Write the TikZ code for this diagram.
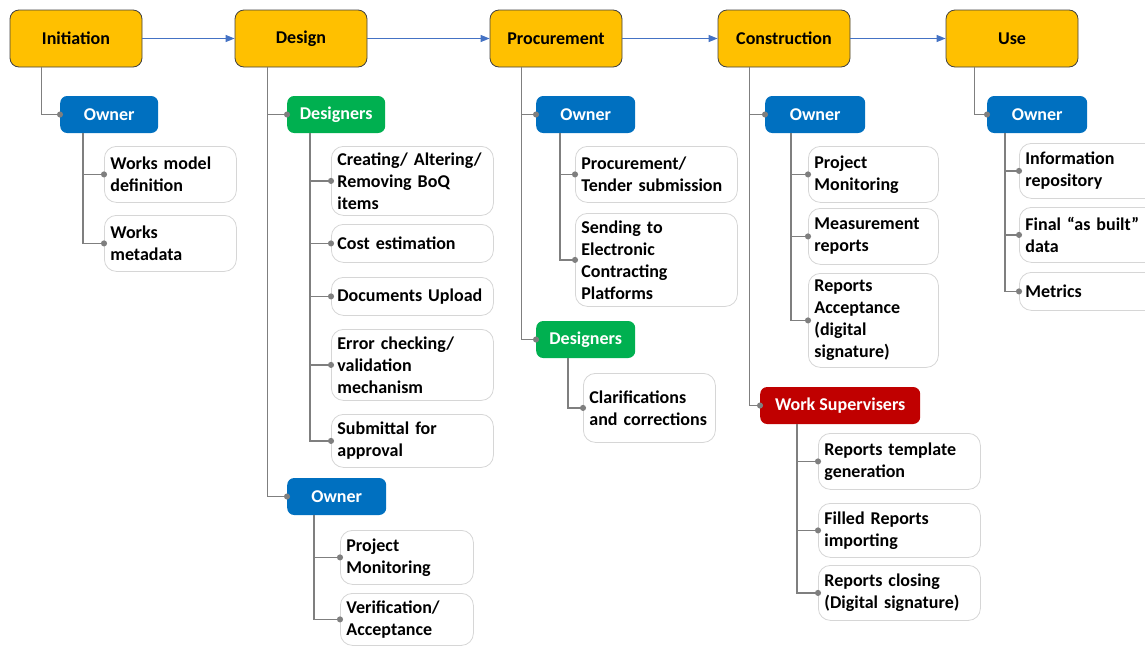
\documentclass[tikz,border=0pt]{standalone}
\usepackage{fontspec}
\setmainfont{Carlito}
\usetikzlibrary{arrows.meta}

\definecolor{stagefill}{HTML}{FFC000}
\definecolor{ownerblue}{HTML}{0070C0}
\definecolor{designgreen}{HTML}{00B050}
\definecolor{superred}{HTML}{C00000}
\definecolor{flowblue}{HTML}{4472C4}
\definecolor{branchgray}{HTML}{7F7F7F}
\definecolor{taskline}{HTML}{D6D6D6}

\begin{document}
\begin{tikzpicture}[x=1pt,y=-1pt,font=\fontsize{18}{22}\selectfont\bfseries,
    stage/.style={draw=black!75,line width=0.8pt,fill=stagefill,rounded corners=9pt,minimum width=132pt,minimum height=57pt},
    actor/.style={fill=#1,text=white,rounded corners=7pt,minimum height=37pt,anchor=west},
    task/.style={draw=taskline,line width=0.8pt,fill=white,rounded corners=12pt,anchor=north west,align=left,inner xsep=6pt,inner ysep=2pt,text width=#1},
    task/.default=120pt,
    branch/.style={draw=branchgray,line width=1.4pt,-{Circle[length=6pt]},shorten >=-3pt},
    flow/.style={draw=flowblue,line width=1pt,-{Triangle[length=9pt,width=7pt]}}]
    \useasboundingbox (0,0) rectangle (1145,646);

    % phases
    \node[stage] (ini) at (76,38.5) {Initiation};
    \node[stage] (des) at (301,38.5) {Design};
    \node[stage] (pro) at (556,38.5) {Procurement};
    \node[stage] (con) at (784,38.5) {Construction};
    \node[stage] (use) at (1012,38.5) {Use};
    \draw[flow] (ini) -- (des);
    \draw[flow] (des) -- (pro);
    \draw[flow] (pro) -- (con);
    \draw[flow] (con) -- (use);

    % actors
    \node[actor=ownerblue,minimum width=98pt] (iniown) at (60,114.5) {Owner};
    \node[actor=designgreen,minimum width=98pt] (desdes) at (287,114.5) {Designers};
    \node[actor=ownerblue,minimum width=99pt] (desown) at (287,496.5) {Owner};
    \node[actor=ownerblue,minimum width=99pt] (proown) at (536,114.5) {Owner};
    \node[actor=designgreen,minimum width=99pt] (prodes) at (536,339.5) {Designers};
    \node[actor=ownerblue,minimum width=100pt] (conown) at (765,114.5) {Owner};
    \node[actor=superred,minimum width=160pt] (consup) at (760,405.5) {Work Supervisers};
    \node[actor=ownerblue,minimum width=100pt] (useown) at (987,114.5) {Owner};

    % tasks
    \node[task,minimum width=132pt,minimum height=56pt] (ini1) at (104,146) {Works model\\definition};
    \node[task,minimum width=132pt,minimum height=56pt] (ini2) at (104,215) {Works\\metadata};
    \node[task=150pt,minimum width=162pt,minimum height=69pt] (des1) at (331,146) {Creating/ Altering/\\Removing BoQ\\items};
    \node[task=150pt,minimum width=162pt,minimum height=38pt] (des2) at (331,224) {Cost estimation};
    \node[task=150pt,minimum width=162pt,minimum height=38pt] (des3) at (331,277) {Documents Upload};
    \node[task=150pt,minimum width=162pt,minimum height=71pt] (des4) at (331,329) {Error checking/\\validation\\mechanism};
    \node[task=150pt,minimum width=162pt,minimum height=53pt] (des5) at (331,414) {Submittal for\\approval};
    \node[task=121pt,minimum width=133pt,minimum height=54pt] (des6) at (340,530) {Project\\Monitoring};
    \node[task=121pt,minimum width=133pt,minimum height=52pt] (des7) at (340,593) {Verification/\\Acceptance};
    \node[task=150pt,minimum width=162pt,minimum height=56pt] (pro1) at (575,146) {Procurement/\\Tender submission};
    \node[task=150pt,minimum width=162pt,minimum height=93pt] (pro2) at (575,213) {Sending to\\Electronic\\Contracting\\Platforms};
    \node[task,minimum width=132pt,minimum height=69pt] (pro3) at (583,373) {Clarifications\\and corrections};
    \node[task=118pt,minimum width=130pt,minimum height=56pt] (con1) at (808,146) {Project\\Monitoring};
    \node[task=118pt,minimum width=130pt,minimum height=56pt] (con2) at (808,208) {Measurement\\reports};
    \node[task=118pt,minimum width=130pt,minimum height=94pt] (con3) at (808,273) {Reports\\Acceptance\\(digital\\signature)};
    \node[task=150pt,minimum width=162pt,minimum height=56pt] (con4) at (818,433) {Reports template\\generation};
    \node[task=150pt,minimum width=162pt,minimum height=54pt] (con5) at (818,503) {Filled Reports\\importing};
    \node[task=150pt,minimum width=162pt,minimum height=55pt] (con6) at (818,565) {Reports closing\\(Digital signature)};
    \node[task=128pt,minimum width=140pt,minimum height=55pt] (use1) at (1019,143) {Information\\repository};
    \node[task=128pt,minimum width=140pt,minimum height=55pt] (use2) at (1019,207) {Final “as built”\\data};
    \node[task=128pt,minimum width=140pt,minimum height=38pt] (use3) at (1019,272) {Metrics};

    % phase -> actor
    \draw[branch] ([xshift=32pt]ini.south west) |- (iniown.west);
    \draw[branch] ([xshift=33pt]des.south west) |- (desdes.west);
    \draw[branch] ([xshift=33pt]des.south west) |- (desown.west);
    \draw[branch] ([xshift=32pt]pro.south west) |- (proown.west);
    \draw[branch] ([xshift=32pt]pro.south west) |- (prodes.west);
    \draw[branch] ([xshift=32pt]con.south west) |- (conown.west);
    \draw[branch] ([xshift=32pt]con.south west) |- (consup.west);
    \draw[branch] ([xshift=29pt]use.south west) |- (useown.west);

    % actor -> task
    \draw[branch] ([xshift=23pt]iniown.south west) |- (ini1.west);
    \draw[branch] ([xshift=23pt]iniown.south west) |- (ini2.west);
    \draw[branch] ([xshift=23pt]desdes.south west) |- (des1.west);
    \draw[branch] ([xshift=23pt]desdes.south west) |- (des2.west);
    \draw[branch] ([xshift=23pt]desdes.south west) |- (des3.west);
    \draw[branch] ([xshift=23pt]desdes.south west) |- (des4.west);
    \draw[branch] ([xshift=23pt]desdes.south west) |- (des5.west);
    \draw[branch] ([xshift=27pt]desown.south west) |- (des6.west);
    \draw[branch] ([xshift=27pt]desown.south west) |- (des7.west);
    \draw[branch] ([xshift=24pt]proown.south west) |- (pro1.west);
    \draw[branch] ([xshift=24pt]proown.south west) |- (pro2.west);
    \draw[branch] ([xshift=32pt]prodes.south west) |- (pro3.west);
    \draw[branch] ([xshift=26pt]conown.south west) |- (con1.west);
    \draw[branch] ([xshift=26pt]conown.south west) |- (con2.west);
    \draw[branch] ([xshift=26pt]conown.south west) |- (con3.west);
    \draw[branch] ([xshift=37pt]consup.south west) |- (con4.west);
    \draw[branch] ([xshift=37pt]consup.south west) |- (con5.west);
    \draw[branch] ([xshift=37pt]consup.south west) |- (con6.west);
    \draw[branch] ([xshift=18pt]useown.south west) |- (use1.west);
    \draw[branch] ([xshift=18pt]useown.south west) |- (use2.west);
    \draw[branch] ([xshift=18pt]useown.south west) |- (use3.west);
\end{tikzpicture}
\end{document}
